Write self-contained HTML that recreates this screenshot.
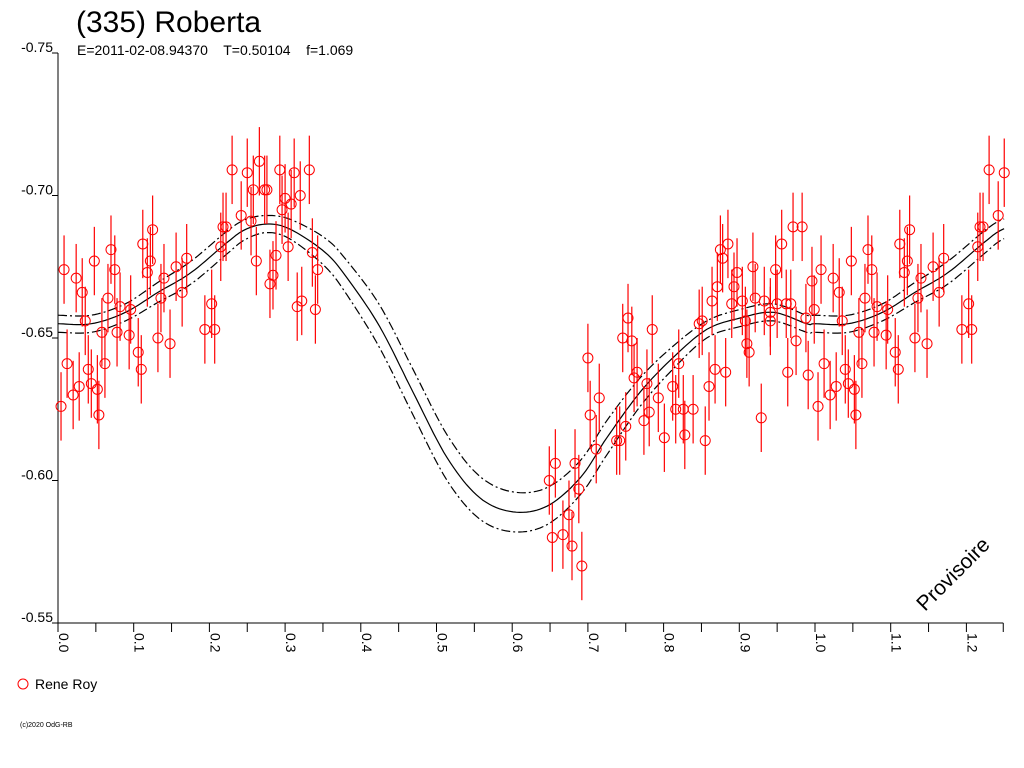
<!DOCTYPE html>
<html><head><meta charset="utf-8"><style>
html,body{margin:0;padding:0;background:#fff;}
svg{display:block;font-family:"Liberation Sans",sans-serif;}
</style></head><body>
<svg id="chart" width="1024" height="768" viewBox="0 0 1024 768">
<text x="76" y="32" font-size="30">(335) Roberta</text>
<text x="77" y="55" font-size="14" xml:space="preserve">E=2011-02-08.94370    T=0.50104    f=1.069</text>
<g id="axes"></g>
<g id="model"></g>
<g id="points"></g>
<text x="0" y="0" font-size="21" transform="translate(925,612) rotate(-45)">Provisoire</text>
<g>
<circle cx="23" cy="684" r="5" fill="none" stroke="#f00" stroke-width="1"/>
<text x="35" y="689" font-size="14">Rene Roy</text>
</g>
<text x="20" y="727" font-size="7">(c)2020 OdG-RB</text>
</svg>
<script>
const xTicks=[0.0,0.1,0.2,0.3,0.4,0.5,0.6,0.7,0.8,0.9,1.0,1.1,1.2];
const xTickLabels=["0.0","0.1","0.2","0.3","0.4","0.5","0.6","0.7","0.8","0.9","1.0","1.1","1.2"];
const yTicks=[-0.75,-0.70,-0.65,-0.60,-0.55];
const yTickLabels=["-0.75","-0.70","-0.65","-0.60","-0.55"];
const phases=[.008,.024,.032,.048,.070,.075,.066,.112,.125,.122,.118,.140,.156,.170,.136,.164,.082,.096,.036,.058,.078,.094,.132,.148,.194,.207,.203,.218,.222,.215,.242,.230,.250,.266,.258,.273,.276,.293,.312,.332,.300,.320,.308,.296,.255,.262,.288,.304,.336,.343,.284,.280,.316,.322,.340,.012,.020,.028,.004,.040,.044,.052,.054,.062,.106,.110,
.649,.657,.653,.667,.675,.679,.683,.688,.692,.700,.703,.715,.711,.738,.742,.746,.753,.758,.750,.761,.765,.778,.774,.781,.785,.793,.801,.812,.816,.820,.826,.828,.839,.847,.851,.855,.860,.864,.868,.871,.875,.878,.882,.885,.890,.893,.897,.904,.908,.910,.913,.918,.921,.929,.933,.941,.941,.948,.950,.956,.962,.964,.968,.971,.975,.983,.988,.991,.996,.999];
const mags=[-0.674,-0.671,-0.666,-0.677,-0.681,-0.674,-0.664,-0.683,-0.688,-0.677,-0.673,-0.671,-0.675,-0.678,-0.664,-0.666,-0.661,-0.660,-0.656,-0.652,-0.652,-0.651,-0.650,-0.648,-0.653,-0.653,-0.662,-0.689,-0.689,-0.682,-0.693,-0.709,-0.708,-0.712,-0.702,-0.702,-0.702,-0.709,-0.708,-0.709,-0.699,-0.700,-0.697,-0.695,-0.691,-0.677,-0.679,-0.682,-0.680,-0.674,-0.672,-0.669,-0.661,-0.663,-0.660,-0.641,-0.630,-0.633,-0.626,-0.639,-0.634,-0.632,-0.623,-0.641,-0.645,-0.639,
-0.600,-0.606,-0.580,-0.581,-0.588,-0.577,-0.606,-0.597,-0.570,-0.643,-0.623,-0.629,-0.611,-0.614,-0.614,-0.650,-0.657,-0.649,-0.619,-0.636,-0.638,-0.634,-0.621,-0.624,-0.653,-0.629,-0.615,-0.633,-0.625,-0.641,-0.625,-0.616,-0.625,-0.655,-0.656,-0.614,-0.633,-0.663,-0.639,-0.668,-0.681,-0.678,-0.638,-0.683,-0.662,-0.668,-0.673,-0.663,-0.656,-0.648,-0.645,-0.675,-0.664,-0.622,-0.663,-0.659,-0.656,-0.674,-0.662,-0.683,-0.662,-0.638,-0.662,-0.689,-0.649,-0.689,-0.657,-0.637,-0.670,-0.660];
const errorBar=0.012;
const modelPhase=[0,.044,.089,.132,.176,.221,.247,.277,.308,.353,.382,.425,.469,.514,.557,.601,.646,.690,.725,.769,.812,.857,.901,.945,.989];
const modelMag=[-0.655,-0.655,-0.659,-0.666,-0.673,-0.683,-0.688,-0.690,-0.688,-0.680,-0.671,-0.654,-0.631,-0.608,-0.594,-0.589,-0.591,-0.601,-0.615,-0.631,-0.643,-0.653,-0.657,-0.659,-0.655];
const modelBand=[.003,.003,.003,.0035,.004,.004,.0035,.003,.0035,.005,.006,.0075,.008,.008,.0075,.007,.0065,.006,.006,.005,.004,.003,.003,.003,.003];

const NS="http://www.w3.org/2000/svg";
const X0=58,XS=757,Y0=53,YS=2850,XMAX=1.25;
const xs=p=>X0+p*XS;
const ys=m=>Y0+(m+0.75)*YS;
function mk(tag,attrs,parent){const e=document.createElementNS(NS,tag);for(const k in attrs)e.setAttribute(k,attrs[k]);parent.appendChild(e);return e;}
const axes=document.getElementById('axes');
let e=mk('line',{x1:X0,y1:Y0,x2:X0,y2:ys(-0.55),stroke:'#000','stroke-width':1},axes);


e=mk('line',{x1:X0,y1:ys(-0.55),x2:xs(XMAX)-1,y2:ys(-0.55),stroke:'#000','stroke-width':1},axes);


yTicks.forEach((v,i)=>{
  const y=ys(v);
  let t=mk('line',{x1:X0-6,y1:y,x2:X0,y2:y,stroke:'#000'},axes);
  
  
  let l=mk('text',{x:X0-5,y:y-1,'font-size':14,'text-anchor':'end'},axes);
  l.textContent=yTickLabels[i];
  
  
});
const yb=ys(-0.55);
for(let k=0;k<=25;k++){
  const p=k*0.05;
  const x=Math.min(xs(p),xs(XMAX)-1);
  let t=mk('line',{x1:x,y1:yb,x2:x,y2:yb+9,stroke:'#000'},axes);
  
  
}
xTicks.forEach((v,i)=>{
  const x=xs(v);
  let l=mk('text',{x:0,y:0,'font-size':14,transform:`translate(${x+1},${yb+10}) rotate(90)`},axes);
  l.textContent=xTickLabels[i];
  
  
});
// model curves (periodic extension to 1.25)
function curvePts(offset){
  const P=[],n=modelPhase.length;
  for(let c=-1;c<=1;c++)for(let i=0;i<n;i++)P.push([modelPhase[i]+c,modelMag[i]+offset*modelBand[i]]);
  return P;
}
function catmull(P){
  let out=[];
  for(let i=1;i<P.length-2;i++){
    const p0=P[i-1],p1=P[i],p2=P[i+1],p3=P[i+2];
    for(let s=0;s<10;s++){
      const t=s/10,t2=t*t,t3=t2*t;
      const f=(a,b,c,d)=>0.5*((2*b)+(-a+c)*t+(2*a-5*b+4*c-d)*t2+(-a+3*b-3*c+d)*t3);
      const ph=f(p0[0],p1[0],p2[0],p3[0]),mg=f(p0[1],p1[1],p2[1],p3[1]);
      if(ph>=0&&ph<=XMAX)out.push([xs(ph),ys(mg)]);
    }
  }
  return out;
}
const model=document.getElementById('model');
[[0,'none','model-curve'],[1,'9 3 2 3','model-band-lower'],[-1,'9 3 2 3','model-band-upper']].forEach(([o,d,n])=>{
  const pts=catmull(curvePts(o));
  let pl=mk('polyline',{points:pts.map(q=>q[0].toFixed(1)+','+q[1].toFixed(1)).join(' '),fill:'none',stroke:'#000','stroke-width':1.2,'stroke-dasharray':d},model);
  
  
});
// data points (repeat phases < 0.25 at +1)
const pg=document.getElementById('points');
function drawPoint(p,m){
  const x=xs(p),y=ys(m);
  let b=mk('line',{x1:x,y1:ys(m-errorBar),x2:x,y2:ys(m+errorBar),stroke:'#f00','stroke-width':1.2},pg);
  
  
  let c=mk('circle',{cx:x,cy:y,r:5,fill:'none',stroke:'#f00','stroke-width':1},pg);
  
  
}
phases.forEach((p,i)=>{
  drawPoint(p,mags[i]);
  if(p+1<=XMAX)drawPoint(p+1,mags[i]);
});
</script>
</body></html>
